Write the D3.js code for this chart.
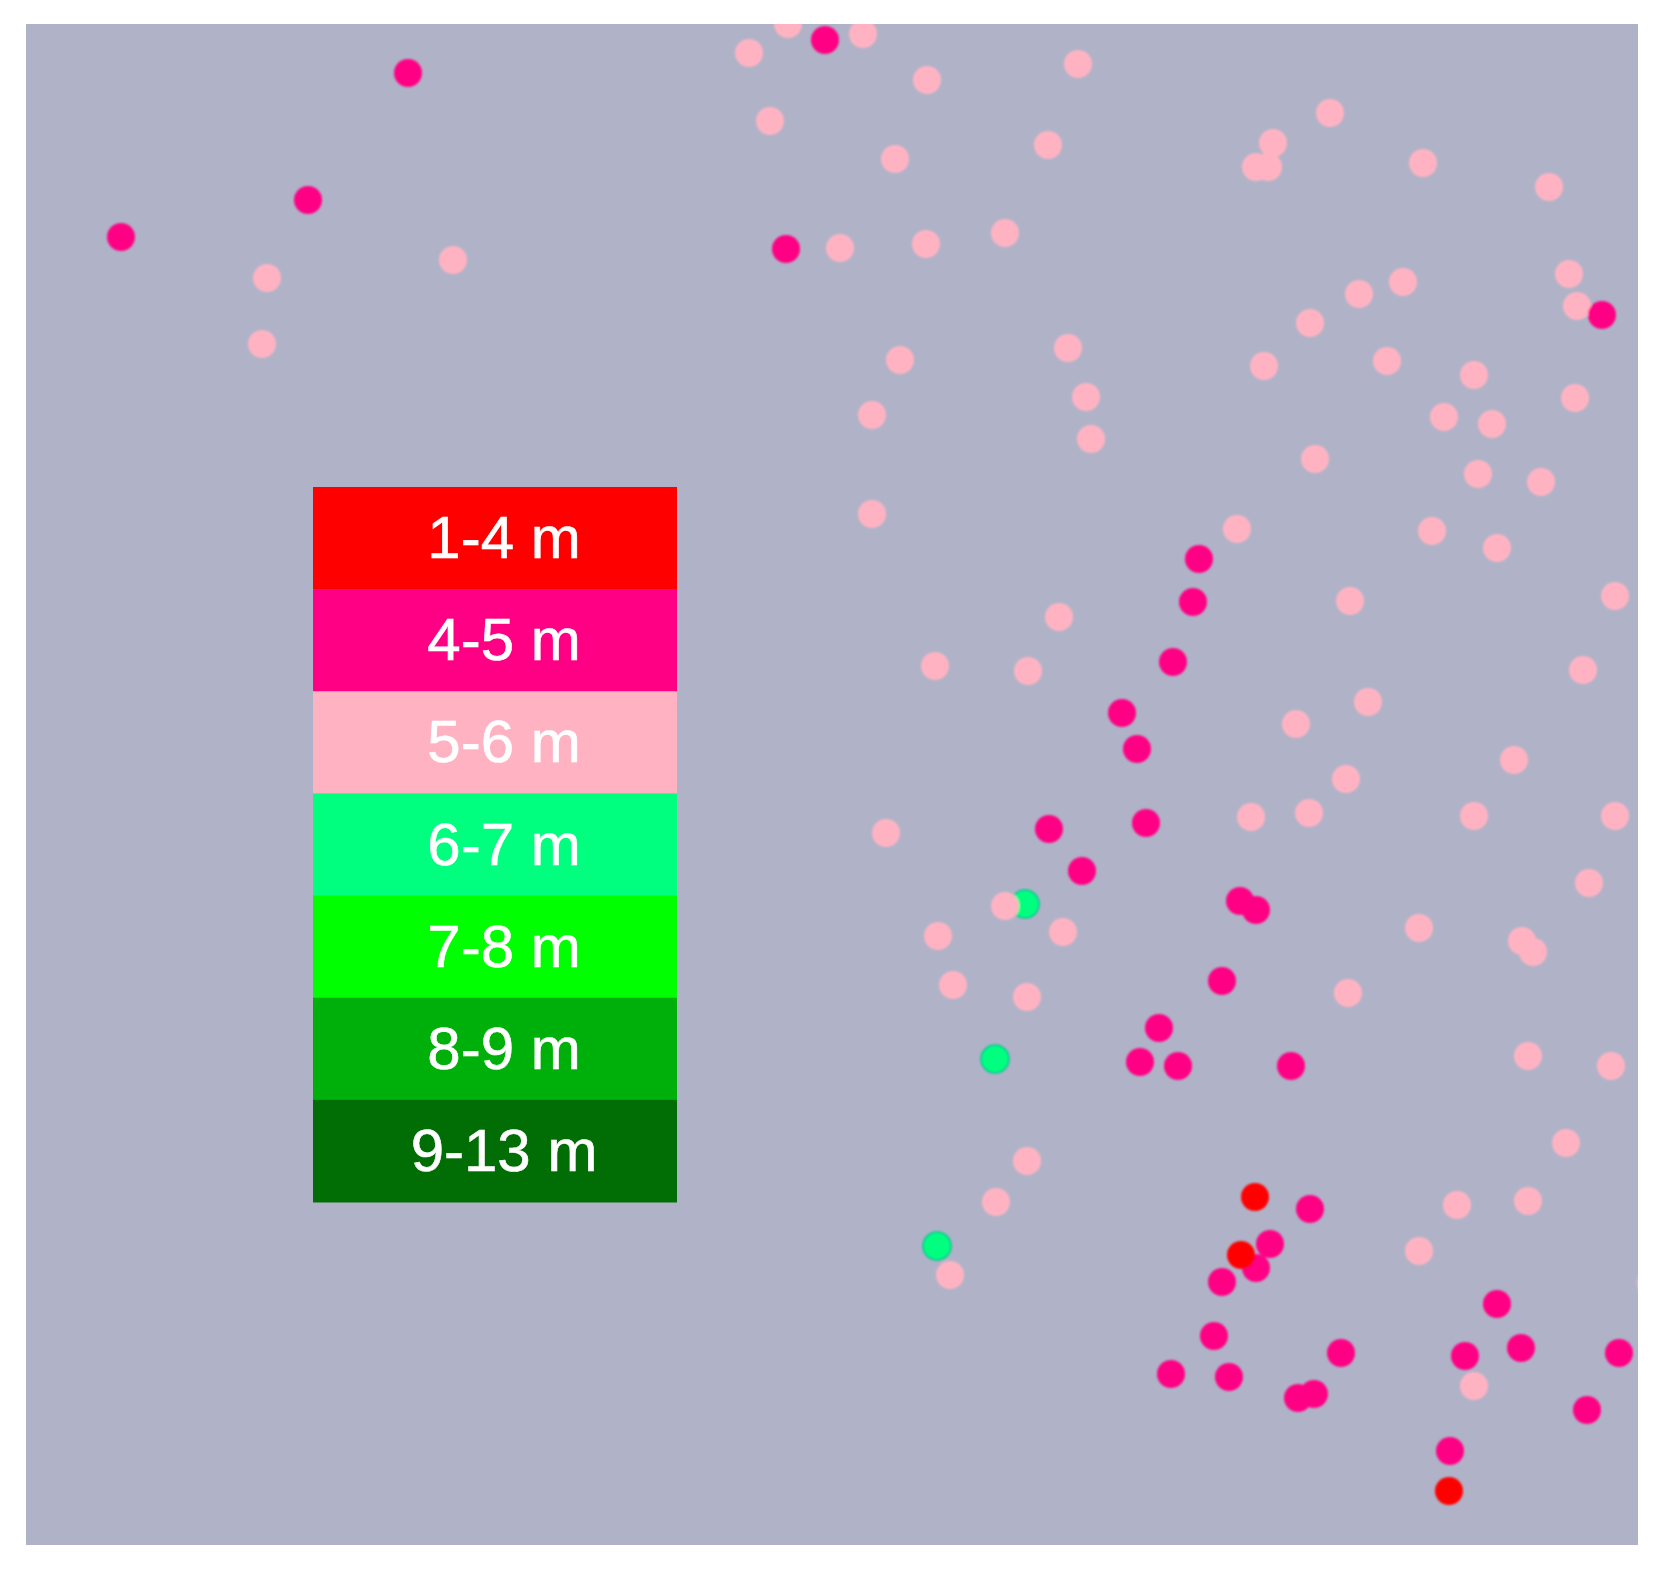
<!DOCTYPE html>
<html>
<head>
<meta charset="utf-8">
<script src="https://cdn.jsdelivr.net/npm/d3@7"></script>
<style>
  html, body { margin: 0; padding: 0; background: #fff; }
  svg { display: block; }
</style>
</head>
<body>
<svg id="chart"></svg>
<script>
// height classes, top to bottom of the legend
var classes = ["1-4 m", "4-5 m", "5-6 m", "6-7 m", "7-8 m", "8-9 m", "9-13 m"];
var classColors = ["#ff0000", "#ff0084", "#ffb3c2", "#00ff7f", "#00ff00", "#00b00a", "#006e05"];

// tree positions
var trees67 = [[1025,904],[995,1059],[937,1246]];

var trees56 = [
  [788,24],[749,53],[770,121],[267,278],[453,260],[262,344],[863,34],[927,80],[1078,64],
  [895,159],[1048,145],[1330,113],[1273,143],[1256,167],[1268,167],[1423,163],[1549,187],
  [840,248],[926,244],[1005,233],[1569,274],[1577,306],[1403,282],[1359,294],[1310,323],
  [1264,366],[1387,361],[1474,375],[900,360],[1068,348],[1086,397],[1091,439],[872,415],
  [1444,417],[1492,424],[1575,398],[1315,459],[1478,474],[1541,482],[872,514],[1237,529],
  [1432,531],[1497,548],[1350,601],[1615,596],[1059,617],[935,666],[1028,671],[1583,670],
  [1368,702],[1296,724],[1514,760],[1346,779],[886,833],[1251,817],[1309,813],[1474,816],
  [1615,816],[1589,883],[1005,906],[938,936],[1063,932],[1419,928],[1522,941],[1533,952],
  [953,985],[1027,997],[1348,993],[1528,1056],[1611,1066],[1566,1143],[1027,1161],[996,1202],
  [1457,1205],[1528,1201],[1419,1251],[950,1275],[1474,1386],[1651,1283]
];

var trees45 = [
  [408,73],[308,200],[121,237],[825,40],[786,249],[1602,315],[1199,559],[1193,602],[1173,662],
  [1122,713],[1137,749],[1049,829],[1146,823],[1082,871],[1240,901],[1256,910],[1222,981],
  [1159,1028],[1140,1062],[1178,1066],[1291,1066],[1310,1209],[1270,1244],[1256,1268],
  [1222,1282],[1214,1336],[1171,1374],[1229,1377],[1298,1398],[1314,1394],[1341,1353],
  [1465,1356],[1521,1348],[1497,1304],[1619,1353],[1587,1410],[1450,1451]
];

var trees14 = [[1255,1197],[1241,1255],[1449,1491]];

var screen = { width: 1659, height: 1571 };
var margins = { top: 24, bottom: 26, left: 26, right: 21 };

var drawChart = function(idName, screen, margins)
{
  var graphWidth = screen.width - margins.left - margins.right;
  var graphHeight = screen.height - margins.top - margins.bottom;

  var x = d3.scaleLinear().domain([26, 1638]).range([0, graphWidth]);
  var y = d3.scaleLinear().domain([24, 1545]).range([0, graphHeight]);
  var color = d3.scaleOrdinal().domain(classes).range(classColors);

  var svg = d3.select(idName)
    .attr("width", screen.width)
    .attr("height", screen.height);

  var defs = svg.append("defs");
  defs.append("clipPath").attr("id", "plotClip")
    .append("rect").attr("width", graphWidth).attr("height", graphHeight);
  defs.append("filter").attr("id", "soft")
    .append("feGaussianBlur").attr("stdDeviation", 0.8);
  defs.append("filter").attr("id", "softText")
    .append("feGaussianBlur").attr("stdDeviation", 0.6);

  var plot = svg.append("g")
    .attr("transform", `translate(${margins.left},${margins.top})`);

  plot.append("rect")
    .attr("width", graphWidth)
    .attr("height", graphHeight)
    .attr("fill", "#b0b3c8");

  var points = plot.append("g")
    .attr("clip-path", "url(#plotClip)")
    .append("g")
    .attr("filter", "url(#soft)");

  // draw order follows the overlaps in the picture
  var layers = [
    { key: "6-7 m", data: trees67, stroke: "#00c78f" },
    { key: "5-6 m", data: trees56, stroke: "none" },
    { key: "4-5 m", data: trees45, stroke: "none" },
    { key: "1-4 m", data: trees14, stroke: "none" }
  ];

  // rounded blobs, not true circles, like the markers in the picture
  var blob = d3.symbol().type(d3.symbolCircle).size(Math.PI * 14 * 14);

  layers.forEach(function(layer)
  {
    points.append("g")
      .selectAll("path")
      .data(layer.data)
      .join("path")
        .attr("d", blob)
        .attr("transform", d => `translate(${x(d[0])},${y(d[1])})`)
        .attr("fill", color(layer.key))
        .attr("stroke", layer.stroke)
        .attr("stroke-width", 1.5);
  });

  // legend
  var band = d3.scaleBand().domain(classes).range([y(487), y(1202)]);

  var legend = plot.append("g");

  legend.selectAll("rect")
    .data(classes)
    .join("rect")
      .attr("x", x(313))
      .attr("y", d => band(d))
      .attr("width", x(677) - x(313))
      .attr("height", band.bandwidth() + 0.5)
      .attr("fill", d => color(d));

  legend.selectAll("text")
    .data(classes)
    .join("text")
      .attr("x", x(504))
      .attr("y", d => band(d) + band.bandwidth() / 2 + 20)
      .attr("text-anchor", "middle")
      .attr("font-family", "'Liberation Sans', Arial, sans-serif")
      .attr("font-size", 60)
      .attr("fill", "#fff")
      .attr("stroke", "#fff")
      .attr("stroke-width", 0.6)
      .attr("filter", "url(#softText)")
      .text(d => d);
}

drawChart("#chart", screen, margins);
</script>
</body>
</html>
